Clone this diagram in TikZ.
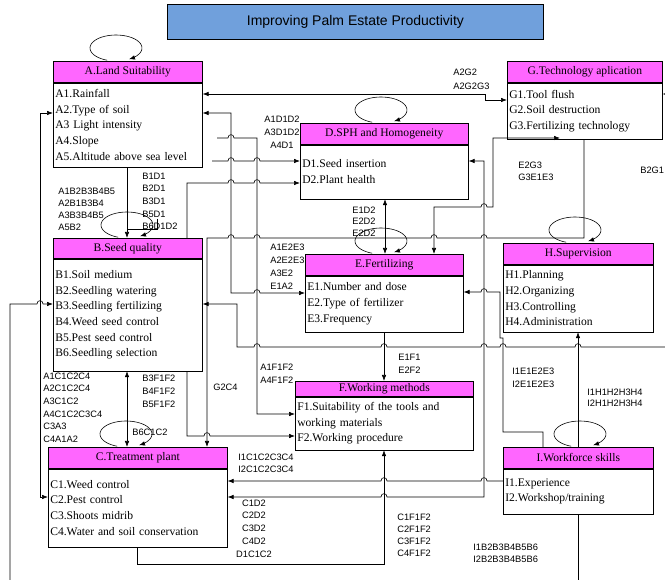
\documentclass[tikz,border=0pt]{standalone}
\usepackage{fontspec}
\setmainfont{Liberation Serif}
\newfontfamily\lblfont{Liberation Sans}
\usetikzlibrary{arrows.meta}
\definecolor{hdrpink}{RGB}{255,102,255}
\definecolor{titleblue}{RGB}{112,160,220}
\newcommand{\bodyfont}{\fontsize{11.6}{15.7}\selectfont}
% small bumps where a horizontal line jumps over a vertical one
\newcommand{\hopR}[2]{-- ({#1-3},#2) .. controls ({#1-3},{#2-4.5}) and ({#1+3},{#2-4.5}) .. ({#1+3},#2)}
\newcommand{\hopL}[2]{-- ({#1+3},#2) .. controls ({#1+3},{#2-4.5}) and ({#1-3},{#2-4.5}) .. ({#1-3},#2)}
\newcommand{\selfloop}[2]{\draw[->] plot[domain=110:420,samples=40,smooth,variable=\ang] ({#1+26*cos(\ang)},{#2+13*sin(\ang)});}

\begin{document}
\begin{tikzpicture}[x=1pt,y=-1pt,line width=0.6pt,>={Latex[length=6pt,width=4.5pt]},
    hdr/.style={draw,fill=hdrpink,anchor=north west,inner sep=0pt,font=\bodyfont},
    bdy/.style={draw,fill=white,anchor=north,align=left,inner xsep=2pt,inner ysep=0pt,font=\bodyfont},
    lbl/.style={anchor=west,inner sep=0pt,font=\lblfont\fontsize{9.3}{10}\selectfont}]
\useasboundingbox (0,0) rectangle (665,580);

\node[draw,line width=0.9pt,fill=titleblue,anchor=north west,minimum width=376pt,minimum height=35pt,
      font=\lblfont\fontsize{14}{16}\selectfont] (T) at (167,4) {Improving Palm Estate Productivity};

% boxes: header + list
\node[hdr,minimum width=149pt,minimum height=21pt] (A-h) at (53,61) {A.Land Suitability};
\node[bdy,text width=145pt,minimum height=84pt] (A) at (A-h.south) {A1.Rainfall\\A2.Type of soil\\A3 Light intensity\\A4.Slope\\A5.Altitude above sea level};
\node[hdr,minimum width=149pt,minimum height=20pt] (B-h) at (53,238) {B.Seed quality};
\node[bdy,text width=145pt,minimum height=112pt] (B) at (B-h.south) {B1.Soil medium\\B2.Seedling watering\\B3.Seedling fertilizing\\B4.Weed seed control\\B5.Pest seed control\\B6.Seedling selection};
\node[hdr,minimum width=179pt,minimum height=21pt] (C-h) at (48,447) {C.Treatment plant};
\node[bdy,text width=175pt,minimum height=78pt] (C) at (C-h.south) {C1.Weed control\\C2.Pest control\\C3.Shoots midrib\\C4.Water and soil conservation};
\node[hdr,minimum width=168pt,minimum height=21pt] (D-h) at (300,123) {D.SPH and Homogeneity};
\node[bdy,text width=164pt,minimum height=54pt] (D) at (D-h.south) {D1.Seed insertion\\D2.Plant health};
\node[hdr,minimum width=158pt,minimum height=21pt] (E-h) at (305,254) {E.Fertilizing};
\node[bdy,text width=154pt,minimum height=56pt] (E) at (E-h.south) {E1.Number and dose\\E2.Type of fertilizer\\E3.Frequency};
\node[hdr,minimum width=178pt,minimum height=15pt] (F-h) at (295,381) {F.Working methods};
\node[bdy,text width=174pt,minimum height=53pt] (F) at (F-h.south) {F1.Suitability of the tools and\\working materials\\F2.Working procedure};
\node[hdr,minimum width=155pt,minimum height=21pt] (G-h) at (507,61) {G.Technology aplication};
\node[bdy,text width=151pt,minimum height=56pt] (G) at (G-h.south) {G1.Tool flush\\G2.Soil destruction\\G3.Fertilizing technology};
\node[hdr,minimum width=150pt,minimum height=21pt] (H-h) at (503,243) {H.Supervision};
\node[bdy,text width=146pt,minimum height=67pt] (H) at (H-h.south) {H1.Planning\\H2.Organizing\\H3.Controlling\\H4.Administration};
\node[hdr,minimum width=150pt,minimum height=21pt] (I-h) at (503,447) {I.Workforce skills};
\node[bdy,text width=146pt,minimum height=45pt] (I) at (I-h.south) {I1.Experience\\I2.Workshop/training};

% self loops
\selfloop{116}{48}
\selfloop{127}{225}
\selfloop{126}{434}
\selfloop{381}{110}
\selfloop{381}{241}
\selfloop{575}{230}
\selfloop{580}{434}

% connectors
\draw[<->] (A.east |- 0,94) -- (485,94) -- (485,100) -- (G.west |- 0,100);
\draw[<->] (A.east |- 0,113) -- (231,113) -- (231,293) \hopR{257}{293} -- (E.west |- 0,293);
\draw[->] (217,138) \hopR{231}{138} -- (257,138) -- (257,414) -- (F.west |- 0,414);
\draw[->] (212,161) \hopR{231}{161} \hopR{257}{161} -- (D.west |- 0,161);
\draw[->] (B-h.north -| 187,0) -- (187,183) \hopR{231}{183} \hopR{257}{183} -- (D.west |- 0,183);
\draw[->] (G.south -| 584,0) -- (584,238) \hopL{484}{238} \hopL{434}{238} \hopL{257}{238} \hopL{231}{238} -- (207,238) -- (C-h.north -| 207,0);
\draw[->] (A.south -| 127,0) -- (B-h.north -| 127,0);
\draw (157,219) -- (157,229) -- (127,229);
\draw[<->] (B.south -| 127,0) -- (C-h.north -| 127,0);
\draw[->] (B.south -| 187,0) -- (187,436) \hopR{207}{436} -- (F.west |- 0,436);
\draw[->] (665,347) \hopL{578}{347} \hopL{503}{347} \hopL{484}{347} \hopL{384}{347} \hopL{257}{347} -- (237,347) -- (237,304) -- (B.east |- 0,304);
\draw[->] (10,580) -- (10,304) \hopR{40}{304} -- (B.west |- 0,304);
\draw[<->] (A.west |- 0,113) -- (40,113) -- (40,497) -- (C.west |- 0,497);
\draw[<->] (D.south -| 385,0) -- (E-h.north -| 385,0);
\draw[<->] (E-h.north -| 434,0) -- (434,207) \hopR{484}{207} -- (493,207) -- (493,138) -- (560,138);
\draw[<->] (C.east |- 0,497) \hopR{384}{497} -- (484,497) -- (484,161) -- (D.east |- 0,161);
\draw[->] (I.west |- 0,481) \hopL{484}{481} \hopL{384}{481} -- (C.east |- 0,481);
\draw[->] (C.south -| 137,0) -- (137,564) -- (384,564) -- (F.south -| 384,0);
\draw[->] (E.south -| 384,0) -- (F-h.north -| 384,0);
\draw[->] (I-h.north -| 543,0) -- (543,432) -- (503,432) -- (503,338) -- (500,338) -- (500,292) \hopL{484}{292} -- (E.east |- 0,292);
\draw[->] (I-h.north -| 578,0) -- (H.south -| 578,0);
\draw (I.south -| 578,0) -- (578,580);
\draw[->] (665,94) -- (G.east |- 0,94);

% relation labels
\foreach \lab [count=\i] in {A1B2B3B4B5,A2B1B3B4,A3B3B4B5,A5B2}
  \node[lbl] (ab\i) at (58,{179+12*\i}) {\lab};
\foreach \lab [count=\i] in {B1D1,B2D1,B3D1,B5D1,B6D1D2}
  \node[lbl] (bd\i) at (142,{163.3+12.7*\i}) {\lab};
\foreach \lab [count=\i] in {A1D1D2,A3D1D2,A4D1}
  \node[lbl,anchor=center] (ad\i) at (282,{106+13*\i}) {\lab};
\foreach \lab [count=\i] in {A2G2,A2G2G3}
  \node[lbl] (ag\i) at (453,{58+14*\i}) {\lab};
\foreach \lab [count=\i] in {E2G3,G3E1E3}
  \node[lbl] (eg\i) at (518,{153+12*\i}) {\lab};
\node[lbl] (bg) at (640,170) {B2G1};
\foreach \lab [count=\i] in {E1D2,E2D2,E2D2}
  \node[lbl] (ed\i) at (352,{198.5+11.5*\i}) {\lab};
\foreach \lab [count=\i] in {A1E2E3,A2E2E3,A3E2,E1A2}
  \node[lbl] (ae\i) at (270,{234+13*\i}) {\lab};
\foreach \lab [count=\i] in {A1F1F2,A4F1F2}
  \node[lbl] (af\i) at (260,{354+13*\i}) {\lab};
\node[lbl] (gc) at (213,387) {G2C4};
\foreach \lab [count=\i] in {B3F1F2,B4F1F2,B5F1F2}
  \node[lbl] (bf\i) at (142,{365+13*\i}) {\lab};
\foreach \lab [count=\i] in {A1C1C2C4,A2C1C2C4,A3C1C2,A4C1C2C3C4,C3A3,C4A1A2}
  \node[lbl] (ac\i) at (43,{363.4+12.6*\i}) {\lab};
\node[lbl] (bc) at (132,432) {B6C1C2};
\foreach \lab [count=\i] in {E1F1,E2F2}
  \node[lbl] (ef\i) at (398,{344+13*\i}) {\lab};
\foreach \lab [count=\i] in {I1C1C2C3C4,I2C1C2C3C4}
  \node[lbl] (ic\i) at (238,{445+12*\i}) {\lab};
\foreach \lab [count=\i] in {C1D2,C2D2,C3D2,C4D2,D1C1C2}
  \node[lbl,anchor=center] (cd\i) at (254,{490.3+12.7*\i}) {\lab};
\foreach \lab [count=\i] in {C1F1F2,C2F1F2,C3F1F2,C4F1F2}
  \node[lbl] (cf\i) at (397,{505+12*\i}) {\lab};
\foreach \lab [count=\i] in {I1B2B3B4B5B6,I2B2B3B4B5B6}
  \node[lbl] (ib\i) at (473,{535+12*\i}) {\lab};
\foreach \lab [count=\i] in {I1E1E2E3,I2E1E2E3}
  \node[lbl] (ie\i) at (512,{358+13*\i}) {\lab};
\foreach \lab [count=\i] in {I1H1H2H3H4,I2H1H2H3H4}
  \node[lbl] (ih\i) at (587,{380.5+11.5*\i}) {\lab};
\end{tikzpicture}
\end{document}
